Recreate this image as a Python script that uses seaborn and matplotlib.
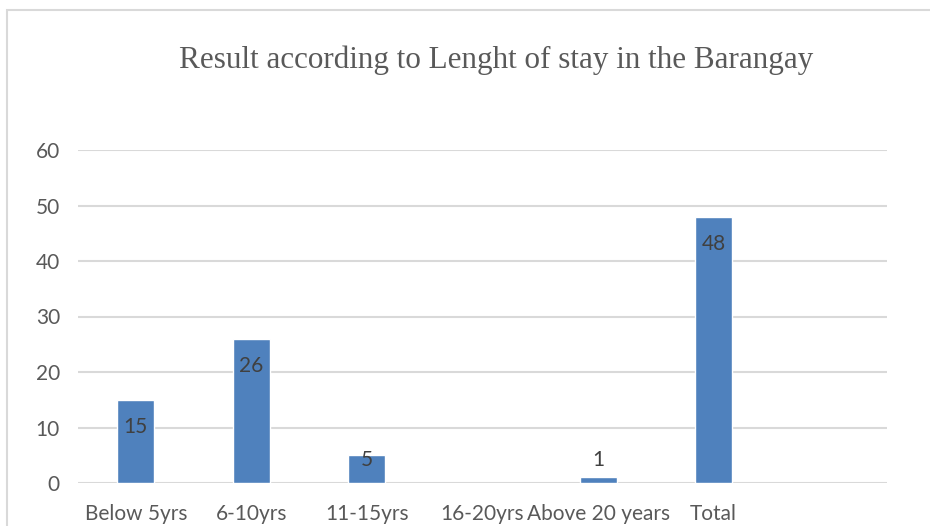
import numpy as np
import pandas as pd
import seaborn as sns
import matplotlib.pyplot as plt
from matplotlib.patches import Rectangle

# Chart data
categories = ['Below 5yrs', '6-10yrs', '11-15yrs', '16-20yrs', 'Above 20 years', 'Total', '']
counts = [15, 26, 5, np.nan, 1, 48, np.nan]
y_ticks = [0, 10, 20, 30, 40, 50, 60]
title = 'Result according to Lenght of stay in the Barangay'

BAR_COLOR = '#4F81BD'
GRID_COLOR = '#D9D9D9'
TEXT_COLOR = '#595959'

sns.set_theme(style='white')
plt.rcParams['font.family'] = ['Lato', 'DejaVu Sans']

df = pd.DataFrame({'category': categories, 'count': counts})

fig = plt.figure(figsize=(9.3, 5.26), dpi=100)
ax = fig.add_axes([78 / 930, 1 - 483 / 526, 809 / 930, 333 / 526])

sns.barplot(data=df, x='category', y='count', order=categories,
            color=BAR_COLOR, saturation=1, width=0.32, ax=ax)

ax.set_xlim(-0.5, len(categories) - 0.5)
ax.set_ylim(0, 60)
ax.set_yticks(y_ticks)
ax.set_xlabel('')
ax.set_ylabel('')

# Horizontal gridlines only
for y in y_ticks:
    ax.axhline(y, color=GRID_COLOR, lw=1.5, zorder=0)
for side in ax.spines.values():
    side.set_visible(False)

ax.tick_params(axis='both', length=0, labelsize=15, labelcolor=TEXT_COLOR)
ax.tick_params(axis='y', pad=13)
ax.tick_params(axis='x', pad=15)

# Data labels at the inside end of each bar
for i, v in enumerate(counts):
    if np.isnan(v):
        continue
    ax.text(i, max(v - 4.9, 4.1), f'{int(v)}', ha='center', va='center',
            fontsize=15, color='#404040')

fig.text(496 / 930, 1 - 60 / 526, title, ha='center', va='center',
         fontsize=22.4, color=TEXT_COLOR, family='Liberation Serif')

# Light frame around the chart area
fig.patches.append(Rectangle((7 / 930, -0.1), 1.1, 1 - 10 / 526 + 0.1,
                             transform=fig.transFigure, fill=False,
                             edgecolor=GRID_COLOR, lw=1.5))

fig.savefig('out.png', dpi=100)
